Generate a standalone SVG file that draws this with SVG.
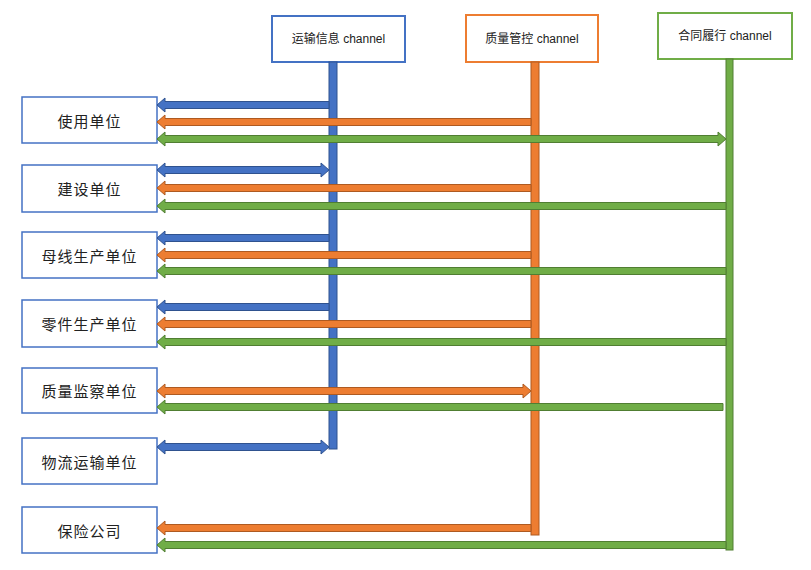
<svg xmlns="http://www.w3.org/2000/svg" width="811" height="570" viewBox="0 0 811 570">
  <style>
    .node rect { fill: #ffffff; stroke: #4472C4; stroke-width: 1.5; }
    .node text { font-family: "Noto Sans CJK SC", "Liberation Sans", sans-serif; font-size: 15px; fill: #222; text-anchor: middle; dominant-baseline: central; letter-spacing: 1px; }
    .head rect { fill: #ffffff; stroke-width: 2; }
    .head text { font-family: "Liberation Sans", "Noto Sans CJK SC", sans-serif; font-size: 12px; fill: #222; text-anchor: middle; dominant-baseline: central; }
    .blue { fill: #4472C4; stroke: #2F528F; stroke-width: 1; }
    .orange { fill: #ED7D31; stroke: #AE5A21; stroke-width: 1; }
    .green { fill: #70AD47; stroke: #507E32; stroke-width: 1; }
  </style>

  <!-- channel headers -->
  <g id="ch-transport" class="head">
    <rect x="272" y="16" width="133" height="46" style="stroke:#4472C4"/>
    <text x="338.5" y="39">运输信息 channel</text>
  </g>
  <g id="ch-quality" class="head">
    <rect x="466" y="15" width="132" height="47" style="stroke:#ED7D31"/>
    <text x="532" y="38.5">质量管控 channel</text>
  </g>
  <g id="ch-contract" class="head">
    <rect x="658" y="13" width="134" height="46" style="stroke:#70AD47"/>
    <text x="725" y="36">合同履行 channel</text>
  </g>

  <!-- participant nodes -->
  <g id="n-user" class="node"><rect x="22" y="97" width="135" height="46"/><text x="89.5" y="120">使用单位</text></g>
  <g id="n-build" class="node"><rect x="22" y="165" width="135" height="47"/><text x="89.5" y="188.5">建设单位</text></g>
  <g id="n-busbar" class="node"><rect x="22" y="232" width="135" height="46"/><text x="89.5" y="255">母线生产单位</text></g>
  <g id="n-parts" class="node"><rect x="22" y="300" width="135" height="47"/><text x="89.5" y="323.5">零件生产单位</text></g>
  <g id="n-inspect" class="node"><rect x="22" y="368" width="135" height="45"/><text x="89.5" y="390.5">质量监察单位</text></g>
  <g id="n-logistics" class="node"><rect x="22" y="438" width="135" height="46"/><text x="89.5" y="461">物流运输单位</text></g>
  <g id="n-insurance" class="node"><rect x="22" y="507" width="135" height="46"/><text x="89.5" y="530">保险公司</text></g>

  <g id="connectors">
    <!-- channel bars -->
    <rect class="blue" x="329" y="62" width="8" height="387"/>
    <rect class="orange" x="531" y="62" width="8" height="473"/>
    <rect class="green" x="726" y="59" width="7" height="491"/>

    <!-- 使用单位 -->
    <path class="blue" d="M157,105 l8,-7 v3.5 H329 v7 H165 v3.5 z"/>
    <path class="orange" d="M157,122 l8,-7 v3.5 H531 v7 H165 v3.5 z"/>
    <path class="green" d="M157,139 l8,-7 v3.5 H718 v-3.5 l8,7 l-8,7 v-3.5 H165 v3.5 z"/>

    <!-- 建设单位 -->
    <path class="blue" d="M157,170 l8,-7 v3.5 H321 v-3.5 l8,7 l-8,7 v-3.5 H165 v3.5 z"/>
    <path class="orange" d="M157,188 l8,-7 v3.5 H531 v7 H165 v3.5 z"/>
    <path class="green" d="M157,206 l8,-7 v3.5 H726 v7 H165 v3.5 z"/>

    <!-- 母线生产单位 -->
    <path class="blue" d="M157,238 l8,-7 v3.5 H329 v7 H165 v3.5 z"/>
    <path class="orange" d="M157,255 l8,-7 v3.5 H531 v7 H165 v3.5 z"/>
    <path class="green" d="M157,271 l8,-7 v3.5 H726 v7 H165 v3.5 z"/>

    <!-- 零件生产单位 -->
    <path class="blue" d="M157,307 l8,-7 v3.5 H329 v7 H165 v3.5 z"/>
    <path class="orange" d="M157,324 l8,-7 v3.5 H531 v7 H165 v3.5 z"/>
    <path class="green" d="M157,342 l8,-7 v3.5 H726 v7 H165 v3.5 z"/>

    <!-- 质量监察单位 -->
    <path class="orange" d="M157,391 l8,-7 v3.5 H523 v-3.5 l8,7 l-8,7 v-3.5 H165 v3.5 z"/>
    <path class="green" d="M157,407 l8,-7 v3.5 H723 v7 H165 v3.5 z"/>

    <!-- 物流运输单位 -->
    <path class="blue" d="M157,447 l8,-7 v3.5 H321 v-3.5 l8,7 l-8,7 v-3.5 H165 v3.5 z"/>

    <!-- 保险公司 -->
    <path class="orange" d="M157,528 l8,-7 v3.5 H531 v7 H165 v3.5 z"/>
    <path class="green" d="M157,545 l8,-7 v3.5 H726 v7 H165 v3.5 z"/>
  </g>
</svg>
